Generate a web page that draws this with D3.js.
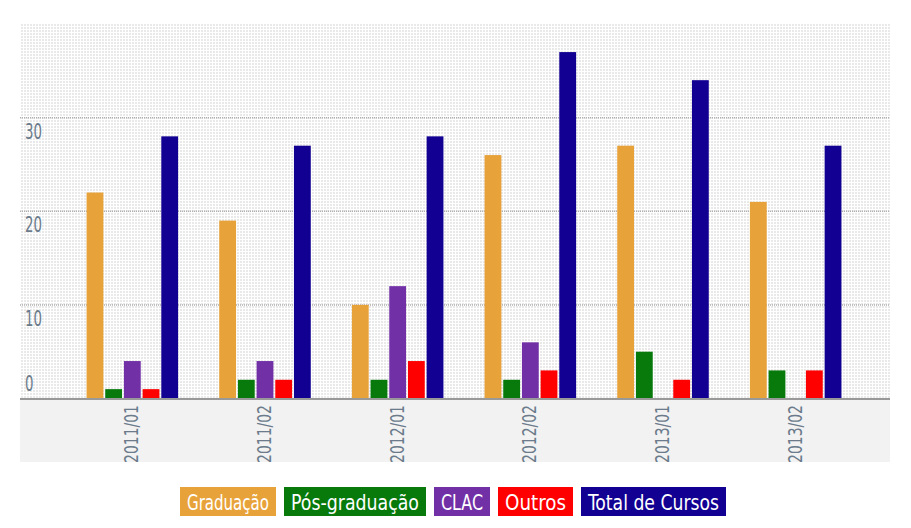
<!DOCTYPE html>
<html><head><meta charset="utf-8">
<script src="https://cdn.jsdelivr.net/npm/d3@7"></script>
<style>
body{margin:0;background:#fff;}
text{font-family:"DejaVu Sans Condensed","DejaVu Sans",sans-serif;font-stretch:condensed;}
</style></head>
<body><svg id="c" width="911" height="528"></svg>
<script>
const categories = ["2011/01","2011/02","2012/01","2012/02","2013/01","2013/02"];
const seriesNames = ["Graduação","Pós-graduação","CLAC","Outros","Total de Cursos"];
const seriesColors = ["#e8a23a","#077a0b","#7230a6","#ff0000","#120092"];
const graduacao = [22,19,10,26,27,21];
const posGraduacao = [1,2,2,2,5,3];
const clac = [4,4,12,6,0,0];
const outros = [1,2,4,3,2,3];
const totalCursos = [28,27,28,37,34,27];
const yTicks = [0,10,20,30];

const series = [graduacao,posGraduacao,clac,outros,totalCursos];
const svg = d3.select("#c");
const L=20, R=890, T=24, B=399, BB=462;

const defs = svg.append("defs");
const pat = defs.append("pattern").attr("id","dots").attr("width",3).attr("height",3).attr("patternUnits","userSpaceOnUse");
pat.append("rect").attr("width",3).attr("height",3).attr("fill","#fff");
pat.append("rect").attr("x",0).attr("y",0).attr("width",2).attr("height",2).attr("fill","#e9e9e9");

svg.append("rect").attr("x",L).attr("y",T).attr("width",R-L).attr("height",B-T).attr("fill","url(#dots)");
svg.append("rect").attr("x",L).attr("y",B).attr("width",R-L).attr("height",BB-B).attr("fill","#f2f2f2");

const y = d3.scaleLinear().domain([0,40]).range([B-0.5,T]);
const x0 = d3.scaleBand().domain(categories).range([66,862]).paddingInner(0.31).paddingOuter(0.155);
const x1 = d3.scaleBand().domain(seriesNames).range([0,x0.bandwidth()]).paddingInner(0.1);

// gridlines
svg.append("g").selectAll("line").data(yTicks.filter(d=>d>0)).join("line")
  .attr("x1",L).attr("x2",R).attr("y1",d=>y(d)).attr("y2",d=>y(d))
  .attr("stroke","#b0b0b0").attr("stroke-width",1.5).attr("stroke-dasharray","1,1");

// y labels
svg.append("g").selectAll("text").data(yTicks).join("text")
  .attr("x",25).attr("y",d=>Math.min(y(d)+21,B-8)).attr("fill","#6b7b8b").attr("font-size",21)
  .attr("textLength",d=>String(d).length*8.5).attr("lengthAdjust","spacingAndGlyphs").text(d=>d);

// bars
const groups = svg.append("g").selectAll("g").data(categories).join("g")
  .attr("transform",c=>`translate(${x0(c)},0)`);
groups.selectAll("rect").data((c,i)=>seriesNames.map((s,j)=>({s,j,v:series[j][i]}))).join("rect")
  .attr("x",d=>x1(d.s)).attr("width",x1.bandwidth())
  .attr("y",d=>y(d.v)).attr("height",d=>y(0)-y(d.v))
  .attr("fill",d=>seriesColors[d.j]);

// axis line
svg.append("line").attr("x1",L).attr("x2",R).attr("y1",B).attr("y2",B).attr("stroke","#999").attr("stroke-width",2);

// x labels
svg.append("g").selectAll("text").data(categories).join("text")
  .attr("transform",c=>`translate(${x0(c)+x0.bandwidth()/2+6},${B+6}) rotate(-90)`)
  .attr("text-anchor","end").attr("fill","#6b7b8b").attr("font-size",20)
  .attr("textLength",58).attr("lengthAdjust","spacingAndGlyphs").text(c=>c);

// legend
const legendW = [96,142,56,75,145];
const legend = svg.append("g");
let lx = 180;
seriesNames.forEach((s,j)=>{
  const w = legendW[j];
  legend.append("rect").attr("x",lx).attr("y",487).attr("width",w).attr("height",29).attr("fill",seriesColors[j]);
  legend.append("text").attr("x",lx+w/2).attr("y",510).attr("text-anchor","middle").attr("fill","#fff").attr("font-size",22)
    .attr("textLength",w-14).attr("lengthAdjust","spacingAndGlyphs").text(s);
  lx += w+8;
});
</script></body></html>
